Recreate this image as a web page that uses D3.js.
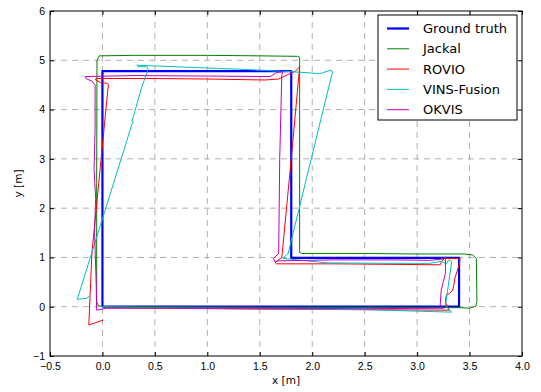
<!DOCTYPE html>
<html>
<head>
<meta charset="utf-8">
<script src="https://cdn.jsdelivr.net/npm/d3@7"></script>
<style>
  html, body { margin: 0; padding: 0; background: #fff; }
  svg { display: block; font-family: 'DejaVu Sans', sans-serif; }
</style>
</head>
<body>
<div id="chart"></div>
<script>
// axis ticks
const xTicks = [-0.5, 0, 0.5, 1, 1.5, 2, 2.5, 3, 3.5, 4];
const yTicks = [-1, 0, 1, 2, 3, 4, 5, 6];
const xTickLabels = ['−0.5', '0.0', '0.5', '1.0', '1.5', '2.0', '2.5', '3.0', '3.5', '4.0'];
const yTickLabels = ['−1', '0', '1', '2', '3', '4', '5', '6'];

// series names and colours (legend order)
const seriesNames = ['Ground truth', 'Jackal', 'ROVIO', 'VINS-Fusion', 'OKVIS'];
const seriesColors = ['#0000ff', '#008000', '#ff0000', '#00bfbf', '#bf00bf'];

// trajectories (metres)
const gtX = [0, 0, 1.8, 1.8, 3.4, 3.4, 0];
const gtY = [0, 4.78, 4.78, 0.99, 0.99, 0, 0];

const jackalX = [0.02, -0.04, -0.055, -0.055, -0.052, -0.03, 0.3, 1.0, 1.5, 1.86, 1.88, 1.88, 1.90, 2.5, 3.0, 3.45, 3.53, 3.565, 3.57, 3.56, 3.5, 3.42, 2.5, 1.5, 0.5, 0.02];
const jackalY = [0.0, 0.02, 0.1, 2.5, 5.0, 5.09, 5.1, 5.1, 5.09, 5.08, 5.06, 1.1, 1.08, 1.08, 1.07, 1.07, 1.05, 0.98, 0.1, 0.01, -0.03, -0.02, -0.01, -0.01, 0.0, 0.0];

const rovioX = [0.01, -0.13, -0.10, 0.056, 0.05, -0.02, -0.07, -0.06, 0.5, 1.0, 1.55, 1.68, 1.78, 1.84, 1.88, 1.80, 1.71, 1.67, 1.645, 1.66, 2.2, 2.77, 3.22, 3.23, 3.26, 3.41, 3.40, 3.38, 3.36, 3.35, 3.34, 3.31, 3.28, 3.27, 3.28, 3.31, 2.5, 1.5, 0.5, 0.05];
const rovioY = [-0.27, -0.37, 1.1, 4.5, 4.53, 4.55, 4.61, 4.63, 4.63, 4.62, 4.60, 4.62, 4.72, 4.78, 4.87, 3.0, 1.0, 0.94, 0.9, 0.87, 0.87, 0.86, 0.85, 0.9, 0.98, 0.98, 0.85, 0.71, 0.58, 0.44, 0.34, 0.27, 0.24, 0.14, 0.03, -0.07, -0.06, -0.05, -0.03, -0.02];

const vinsX = [-0.125, -0.15, -0.24, 0.23, 0.28, 0.295, 0.28, 0.375, 0.438, 0.42, 0.342, 0.327, 0.8, 1.3, 1.79, 2.07, 2.106, 2.17, 2.195, 2.186, 1.77, 1.72, 2.14, 2.7, 3.12, 3.23, 3.28, 3.30, 3.33, 3.27, 3.33, 2.5, 1.5, 0.5, 0.0];
const vinsY = [0.22, 0.17, 0.15, 3.35, 3.70, 3.73, 3.75, 4.46, 4.82, 4.87, 4.87, 4.90, 4.86, 4.82, 4.77, 4.73, 4.75, 4.80, 4.77, 4.70, 1.08, 0.98, 0.89, 0.88, 0.88, 0.92, 0.87, 0.95, 0.92, 0.02, -0.11, -0.06, -0.04, -0.02, 0.0];

const okvisX = [0.04, -0.055, -0.06, -0.075, -0.065, -0.08, -0.07, -0.07, -0.10, -0.15, -0.165, 0.3, 1.0, 1.60, 1.66, 1.72, 1.71, 1.69, 1.68, 1.63, 1.645, 1.68, 2.2, 2.8, 3.12, 3.25, 3.27, 3.27, 3.23, 3.22, 3.25, 2.5, 1.5, 0.5, 0.04];
const okvisY = [-0.03, -0.07, 0.5, 1.5, 2.2, 2.8, 3.6, 4.5, 4.58, 4.62, 4.67, 4.69, 4.68, 4.67, 4.75, 4.77, 4.7, 3.0, 1.08, 0.98, 0.91, 0.93, 0.95, 0.95, 0.94, 0.97, 1.01, 0.68, 0.34, 0.03, -0.03, -0.04, -0.03, -0.03, -0.03];

const seriesX = [gtX, jackalX, rovioX, vinsX, okvisX];
const seriesY = [gtY, jackalY, rovioY, vinsY, okvisY];

const margin = { top: 11, right: 19, bottom: 36, left: 50 };
const width = 541 - margin.left - margin.right,
  height = 392 - margin.top - margin.bottom;

const svg = d3
  .select('#chart')
  .append('svg')
  .attr('width', width + margin.left + margin.right)
  .attr('height', height + margin.top + margin.bottom)
  .append('g')
  .attr('transform', `translate(${margin.left}, ${margin.top})`);

//scale x
const x = d3.scaleLinear().domain([-0.5, 4]).range([0, width]);
//scale y
const y = d3.scaleLinear().domain([-1, 6]).range([height, 0]);

// grid lines (dashed, gray)
svg
  .selectAll('.xgrid')
  .data(xTicks.slice(1, -1))
  .enter()
  .append('line')
  .attr('x1', (d) => x(d))
  .attr('x2', (d) => x(d))
  .attr('y1', 0)
  .attr('y2', height)
  .attr('stroke', '#b0b0b0')
  .attr('stroke-width', 1)
  .attr('stroke-dasharray', '6 5');

svg
  .selectAll('.ygrid')
  .data(yTicks.slice(1, -1))
  .enter()
  .append('line')
  .attr('x1', 0)
  .attr('x2', width)
  .attr('y1', (d) => y(d))
  .attr('y2', (d) => y(d))
  .attr('stroke', '#b0b0b0')
  .attr('stroke-width', 1)
  .attr('stroke-dasharray', '6 5');

// trajectories
svg
  .append('clipPath')
  .attr('id', 'plotclip')
  .append('rect')
  .attr('width', width)
  .attr('height', height);

const line = d3
  .line()
  .x((d) => x(d[0]))
  .y((d) => y(d[1]));

seriesNames.forEach((name, i) => {
  const pts = seriesX[i].map((v, j) => [v, seriesY[i][j]]);
  svg
    .append('path')
    .datum(pts)
    .attr('clip-path', 'url(#plotclip)')
    .attr('fill', 'none')
    .attr('stroke', seriesColors[i])
    .attr('stroke-width', i === 0 ? 2.2 : 1)
    .attr('stroke-linejoin', 'round')
    .attr('d', line);
});

//add X-axis (ticks inside)
const xAxis = svg
  .append('g')
  .attr('transform', `translate(0, ${height})`)
  .call(
    d3
      .axisBottom(x)
      .tickValues(xTicks)
      .tickFormat((d, i) => xTickLabels[i])
      .tickSizeInner(-4)
      .tickSizeOuter(0)
      .tickPadding(7)
  );
xAxis.select('.domain').remove();
xAxis.selectAll('text').style('font-size', '10.5px').attr('fill', '#000');

// top ticks
svg
  .append('g')
  .call(d3.axisTop(x).tickValues(xTicks).tickSizeInner(-4).tickSizeOuter(0).tickFormat(''))
  .select('.domain')
  .remove();

//add Y-axis (ticks inside)
const yAxis = svg
  .append('g')
  .call(
    d3
      .axisLeft(y)
      .tickValues(yTicks)
      .tickFormat((d, i) => yTickLabels[i])
      .tickSizeInner(-4)
      .tickSizeOuter(0)
      .tickPadding(5)
  );
yAxis.select('.domain').remove();
yAxis.selectAll('text').style('font-size', '10.5px').attr('fill', '#000');

// right ticks
svg
  .append('g')
  .attr('transform', `translate(${width}, 0)`)
  .call(d3.axisRight(y).tickValues(yTicks).tickSizeInner(-4).tickSizeOuter(0).tickFormat(''))
  .select('.domain')
  .remove();

// frame
svg
  .append('rect')
  .attr('width', width)
  .attr('height', height)
  .attr('fill', 'none')
  .attr('stroke', '#000')
  .attr('stroke-width', 1);

//axis labels
svg
  .append('text')
  .attr('x', width / 2)
  .attr('y', height + 28)
  .attr('text-anchor', 'middle')
  .style('font-size', '10.5px')
  .text('x [m]');

svg
  .append('text')
  .attr('transform', 'rotate(-90)')
  .attr('x', -height / 2)
  .attr('y', -28)
  .attr('text-anchor', 'middle')
  .style('font-size', '10.5px')
  .text('y [m]');

// legend box, top right
const legX = 328, legY = 4, legW = 139, legH = 105, rowH = 20.3;
const lg = svg.append('g').attr('transform', `translate(${legX}, ${legY})`);
lg.append('rect')
  .attr('width', legW)
  .attr('height', legH)
  .attr('fill', '#fff')
  .attr('stroke', '#000')
  .attr('stroke-width', 1);

seriesNames.forEach((name, i) => {
  const cy = 13.5 + i * rowH;
  lg.append('line')
    .attr('x1', 9)
    .attr('x2', 31)
    .attr('y1', cy)
    .attr('y2', cy)
    .attr('stroke', seriesColors[i])
    .attr('stroke-width', i === 0 ? 2.2 : 1);
  lg.append('text')
    .attr('x', 45)
    .attr('y', cy)
    .attr('dy', '0.36em')
    .style('font-size', '13px')
    .text(name);
});
</script>
</body>
</html>
